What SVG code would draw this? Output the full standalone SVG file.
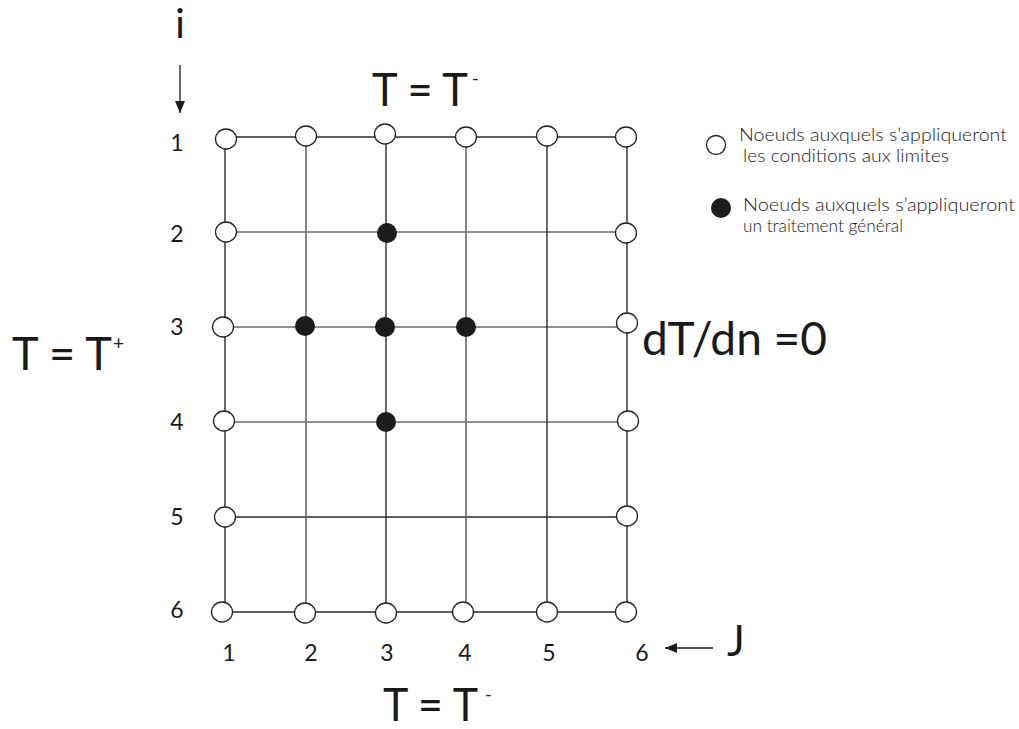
<svg xmlns="http://www.w3.org/2000/svg" width="1019" height="729" viewBox="0 0 1019 729">
<defs>
<style>
.bg{fill:#ffffff}
.open{fill:#ffffff;stroke:#222;stroke-width:1.3}
.full{fill:#1c1c1c;stroke:none}
.ld{stroke:#2a2a2a;stroke-width:1.4;fill:none}
.lg{stroke:#6a6a6a;stroke-width:1.6;fill:none}
.t{font-family:"Lato","Open Sans","Liberation Sans",sans-serif;font-weight:400;fill:#1a1a1a}
.num{font-size:23px;text-anchor:middle;font-weight:400}
.big{font-size:46px}
.leg{font-size:17px;font-weight:300}
.sup{font-size:18px}
.arr{stroke:#1a1a1a;stroke-width:1.3;fill:none}
</style>
<marker id="ah" viewBox="0 0 12 10" refX="12" refY="5" markerWidth="12" markerHeight="10" markerUnits="userSpaceOnUse" orient="auto">
<path d="M0,0 L12,5 L0,10 z" fill="#1a1a1a"/>
</marker>
</defs>
<rect class="bg" x="0" y="0" width="1019" height="729"/>

<g id="connectors">
<line class="ld" x1="225" y1="137" x2="627" y2="137"/>
<line class="lg" x1="225" y1="232" x2="627" y2="232"/>
<line class="lg" x1="225" y1="327" x2="627" y2="327"/>
<line class="lg" x1="225" y1="422" x2="627" y2="422"/>
<line class="ld" x1="225" y1="517" x2="627" y2="517"/>
<line class="ld" x1="225" y1="612" x2="627" y2="612"/>
<line class="ld" x1="225" y1="137" x2="225" y2="612"/>
<line class="lg" x1="306" y1="137" x2="306" y2="612"/>
<line class="ld" x1="386" y1="137" x2="386" y2="612"/>
<line class="lg" x1="466" y1="137" x2="466" y2="612"/>
<line class="ld" x1="547" y1="137" x2="547" y2="612"/>
<line class="ld" x1="627" y1="137" x2="627" y2="612"/>
<line class="arr" x1="180" y1="65" x2="180" y2="113" marker-end="url(#ah)"/>
<line class="arr" x1="713" y1="648" x2="665" y2="648" marker-end="url(#ah)"/>
</g>

<g id="n-1-1"><ellipse class="open" cx="226" cy="139" rx="10.5" ry="10"/></g>
<g id="n-1-2"><ellipse class="open" cx="306" cy="136" rx="10.5" ry="10"/></g>
<g id="n-1-3"><ellipse class="open" cx="385" cy="134" rx="10.5" ry="10"/></g>
<g id="n-1-4"><ellipse class="open" cx="466" cy="137" rx="10.5" ry="10"/></g>
<g id="n-1-5"><ellipse class="open" cx="547" cy="136" rx="10.5" ry="10"/></g>
<g id="n-1-6"><ellipse class="open" cx="626" cy="137" rx="10.5" ry="10"/></g>
<g id="n-2-1"><ellipse class="open" cx="226" cy="232" rx="10.5" ry="10"/></g>
<g id="n-3-1"><ellipse class="open" cx="223" cy="327" rx="10.5" ry="10"/></g>
<g id="n-4-1"><ellipse class="open" cx="224" cy="421" rx="10.5" ry="10"/></g>
<g id="n-5-1"><ellipse class="open" cx="225" cy="517" rx="10.5" ry="10"/></g>
<g id="n-2-6"><ellipse class="open" cx="626" cy="233" rx="10.5" ry="10"/></g>
<g id="n-3-6"><ellipse class="open" cx="627" cy="323" rx="10.5" ry="10"/></g>
<g id="n-4-6"><ellipse class="open" cx="628" cy="421" rx="10.5" ry="10"/></g>
<g id="n-5-6"><ellipse class="open" cx="627" cy="516" rx="10.5" ry="10"/></g>
<g id="n-6-1"><ellipse class="open" cx="222" cy="612" rx="10.5" ry="10"/></g>
<g id="n-6-2"><ellipse class="open" cx="305" cy="613" rx="10.5" ry="10"/></g>
<g id="n-6-3"><ellipse class="open" cx="386" cy="613" rx="10.5" ry="10"/></g>
<g id="n-6-4"><ellipse class="open" cx="463" cy="612" rx="10.5" ry="10"/></g>
<g id="n-6-5"><ellipse class="open" cx="547" cy="612" rx="10.5" ry="10"/></g>
<g id="n-6-6"><ellipse class="open" cx="626" cy="612" rx="10.5" ry="10"/></g>
<g id="n-2-3"><circle class="full" cx="387" cy="233" r="10"/></g>
<g id="n-3-2"><circle class="full" cx="305" cy="326" r="10"/></g>
<g id="n-3-3"><circle class="full" cx="385" cy="327" r="10"/></g>
<g id="n-3-4"><circle class="full" cx="466" cy="327" r="10"/></g>
<g id="n-4-3"><circle class="full" cx="386" cy="422" r="10"/></g>

<g id="row-labels">
<text class="t num" x="177" y="151">1</text>
<text class="t num" x="177" y="242">2</text>
<text class="t num" x="177" y="335">3</text>
<text class="t num" x="177" y="430">4</text>
<text class="t num" x="177" y="525">5</text>
<text class="t num" x="177" y="618">6</text>
</g>
<g id="col-labels">
<text class="t num" x="229" y="661">1</text>
<text class="t num" x="311" y="661">2</text>
<text class="t num" x="387" y="661">3</text>
<text class="t num" x="465" y="661">4</text>
<text class="t num" x="549" y="661">5</text>
<text class="t num" x="642" y="661">6</text>
</g>

<g id="axis-i"><text class="t" x="180" y="38" font-size="40" font-weight="300" text-anchor="middle">i</text></g>
<g id="axis-j"><text class="t" x="727" y="656" font-size="42">J</text></g>

<g id="bc-top">
<text class="t big" x="372" y="106" textLength="96" lengthAdjust="spacingAndGlyphs">T = T</text>
<text class="t sup" x="472" y="85">-</text>
</g>
<g id="bc-left">
<text class="t big" x="12" y="370" textLength="100" lengthAdjust="spacingAndGlyphs">T = T</text>
<text class="t" x="113" y="350" font-size="19">+</text>
</g>
<g id="bc-right">
<text class="t big" x="642" y="355" textLength="185" lengthAdjust="spacingAndGlyphs">dT/dn =0</text>
</g>
<g id="bc-bottom">
<text class="t big" x="383" y="721" textLength="95" lengthAdjust="spacingAndGlyphs">T = T</text>
<text class="t sup" x="485" y="701">-</text>
</g>

<g id="legend-open">
<circle class="open" cx="716" cy="145" r="9.5"/>
<text class="t leg" x="739" y="141" textLength="268" lengthAdjust="spacingAndGlyphs">Noeuds auxquels s’appliqueront</text>
<text class="t leg" x="743" y="162" textLength="206" lengthAdjust="spacingAndGlyphs">les conditions aux limites</text>
</g>
<g id="legend-full">
<circle class="full" cx="721" cy="208" r="10"/>
<text class="t leg" x="743" y="211" textLength="272" lengthAdjust="spacingAndGlyphs">Noeuds auxquels s’appliqueront</text>
<text class="t leg" x="743" y="232" textLength="160" lengthAdjust="spacingAndGlyphs">un traitement général</text>
</g>
</svg>
